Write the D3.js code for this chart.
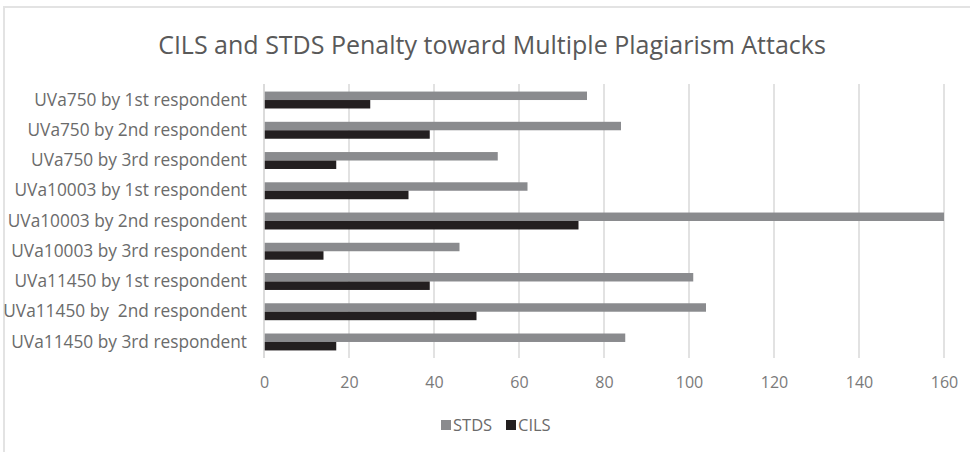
<!DOCTYPE html>
<html>
<head>
<meta charset="utf-8">
<script src="https://cdn.jsdelivr.net/npm/d3@7"></script>
<style>
  body { margin: 0; background: #fff; }
  text { font-family: "Open Sans", sans-serif; }
</style>
</head>
<body>
<div id="chart"></div>
<script>
// chart data
var categories = [
  'UVa750 by 1st respondent',
  'UVa750 by 2nd respondent',
  'UVa750 by 3rd respondent',
  'UVa10003 by 1st respondent',
  'UVa10003 by 2nd respondent',
  'UVa10003 by 3rd respondent',
  'UVa11450 by 1st respondent',
  'UVa11450 by  2nd respondent',
  'UVa11450 by 3rd respondent'
];
var stds = [76, 84, 55, 62, 160, 46, 101, 104, 85];
var cils = [25, 39, 17, 34, 74, 14, 39, 50, 17];
var seriesNames = ['STDS', 'CILS'];
var xTicks = [0, 20, 40, 60, 80, 100, 120, 140, 160];

var width = 970;
var height = 452;
var plot = { left: 264, right: 944, top: 84, bottom: 358 };

var colors = { STDS: '#8a8b8e', CILS: '#231f20' };

var svg = d3.select('#chart')
  .append('svg')
  .attr('width', width)
  .attr('height', height);

// chart border (only top and left edges show)
svg.append('path')
  .attr('d', 'M4,' + height + 'V7H' + width)
  .attr('fill', 'none')
  .attr('stroke', '#e3e3e3')
  .attr('stroke-width', 2);

svg.append('text')
  .attr('x', 492)
  .attr('y', 54)
  .attr('text-anchor', 'middle')
  .attr('font-size', '25px')
  .attr('fill', '#595959')
  .text('CILS and STDS Penalty toward Multiple Plagiarism Attacks');

var x = d3.scaleLinear()
  .domain([0, 160])
  .range([plot.left, plot.right]);

var y = d3.scaleBand()
  .domain(categories)
  .range([plot.top, plot.bottom])
  .paddingInner(0.44)
  .paddingOuter(0.25);

var ySub = d3.scaleBand()
  .domain(seriesNames)
  .range([0, y.bandwidth()]);

// gridlines
svg.append('g')
  .selectAll('line')
  .data(xTicks)
  .enter()
  .append('line')
    .attr('x1', function(d) { return x(d); })
    .attr('x2', function(d) { return x(d); })
    .attr('y1', plot.top)
    .attr('y2', plot.bottom)
    .attr('stroke', '#d9d9d9')
    .attr('stroke-width', 1.5);

// x axis labels
var xAxis = d3.axisBottom(x)
  .tickValues(xTicks)
  .tickSize(0)
  .tickPadding(0);

var gx = svg.append('g')
  .attr('transform', 'translate(0,' + 377 + ')')
  .call(xAxis);
gx.select('.domain').remove();
gx.selectAll('text')
  .attr('font-size', '16px')
  .attr('font-family', '"Open Sans", sans-serif')
  .attr('fill', '#7a7a7a');

// category labels
var yAxis = d3.axisLeft(y)
  .tickSize(0)
  .tickPadding(17);

var gy = svg.append('g')
  .attr('transform', 'translate(' + plot.left + ',0)')
  .call(yAxis);
gy.select('.domain').remove();
gy.selectAll('text')
  .attr('font-size', '17.3px')
  .attr('font-family', '"Open Sans", sans-serif')
  .attr('fill', '#6b6b6b')
  .style('white-space', 'pre');

// bars
var rows = categories.map(function(c, i) {
  return { cat: c, values: [{ key: 'STDS', value: stds[i] }, { key: 'CILS', value: cils[i] }] };
});

var groups = svg.append('g')
  .selectAll('g')
  .data(rows)
  .enter()
  .append('g')
    .attr('transform', function(d) { return 'translate(0,' + y(d.cat) + ')'; });

groups.selectAll('rect')
  .data(function(d) { return d.values; })
  .enter()
  .append('rect')
    .attr('x', x(0))
    .attr('y', function(d) { return ySub(d.key); })
    .attr('width', function(d) { return x(d.value) - x(0); })
    .attr('height', ySub.bandwidth())
    .attr('fill', function(d) { return colors[d.key]; });

// zero line drawn over the bars
svg.append('line')
  .attr('x1', x(0)).attr('x2', x(0))
  .attr('y1', plot.top).attr('y2', plot.bottom)
  .attr('stroke', '#d9d9d9')
  .attr('stroke-width', 1.5);

// legend
var legend = svg.append('g')
  .selectAll('g')
  .data(seriesNames)
  .enter()
  .append('g')
    .attr('transform', function(d, i) { return 'translate(' + (441 + i * 65) + ',420)'; });

legend.append('rect')
  .attr('width', 10)
  .attr('height', 10)
  .attr('fill', function(d) { return colors[d]; });

legend.append('text')
  .attr('x', 12)
  .attr('y', 11)
  .attr('font-size', '16.5px')
  .attr('fill', '#6b6b6b')
  .text(function(d) { return d; });
</script>
</body>
</html>
